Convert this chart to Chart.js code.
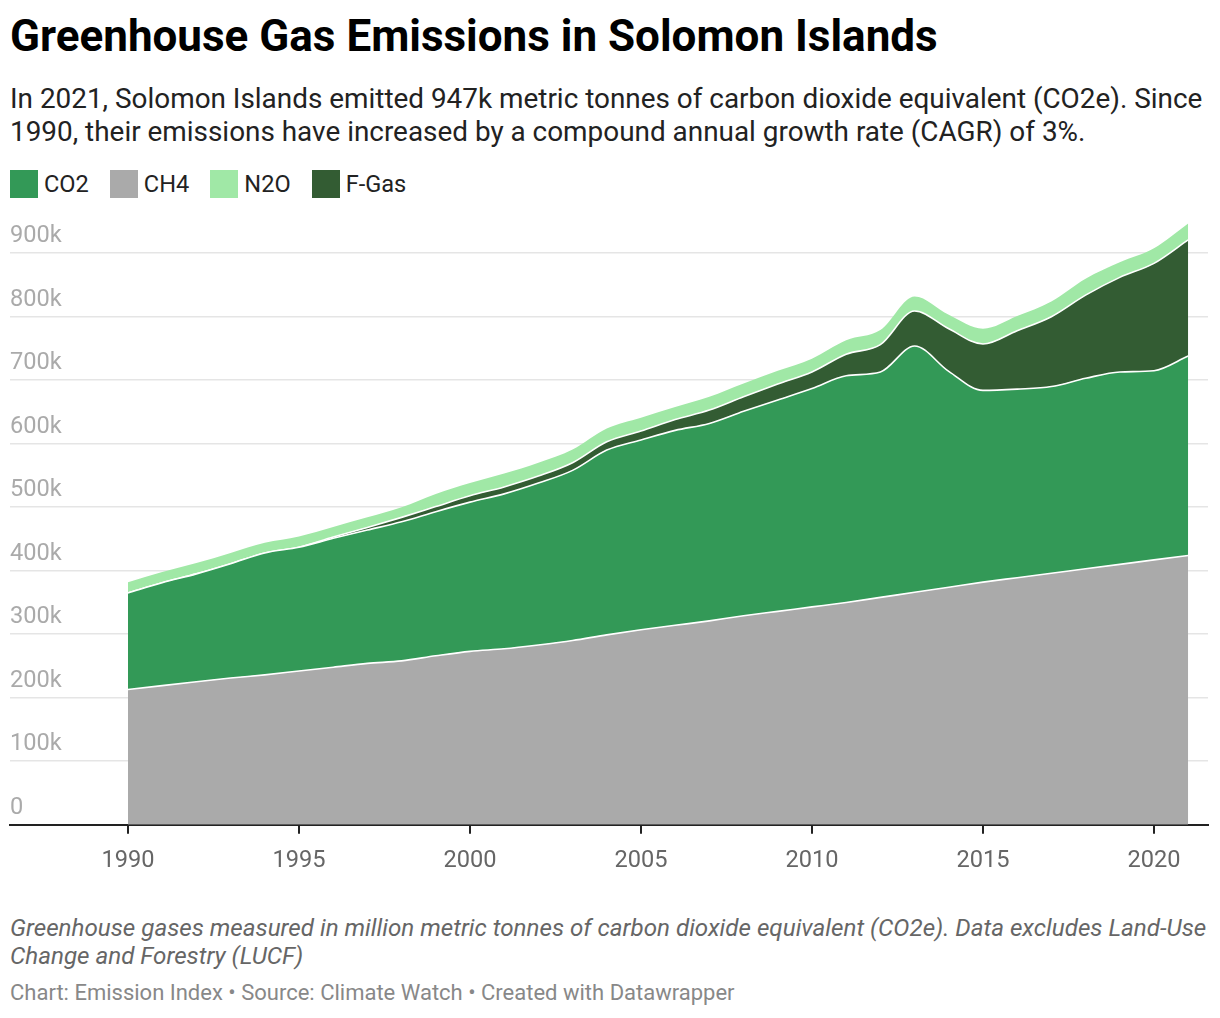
<!DOCTYPE html>
<html>
<head>
<meta charset="utf-8">
<script src="https://cdn.jsdelivr.net/npm/chart.js@4"></script>
<style>
  body { margin: 0; background: #fff; font-family: Roboto, "Noto Sans", sans-serif; }
  #wrap { position: relative; width: 1220px; height: 1018px; }
  h1 { position: absolute; left: 10px; top: 11px; margin: 0; font-size: 44px; line-height: 50px; font-weight: 700; color: #000; white-space: nowrap; }
  #sub { position: absolute; left: 10px; top: 82px; width: 1210px; margin: 0; font-size: 27.9px; line-height: 33px; color: #222; }
  #legend { position: absolute; left: 10px; top: 170px; display: flex; font-size: 23.6px; line-height: 28px; color: #222; }
  .item { display: flex; align-items: center; margin-right: 21px; }
  .sw { width: 28px; height: 28px; margin-right: 6px; }
  #box { position: absolute; left: 0; top: 194px; width: 1220px; height: 706px; }
  #note { position: absolute; left: 10px; top: 914px; width: 1208px; font-size: 24.2px; line-height: 28px; font-style: italic; color: #666; }
  #src { position: absolute; left: 10px; top: 981px; font-size: 22px; line-height: 24px; color: #888; white-space: nowrap; }
</style>
</head>
<body>
<div id="wrap">
  <h1>Greenhouse Gas Emissions in Solomon Islands</h1>
  <p id="sub">In 2021, Solomon Islands emitted 947k metric tonnes of carbon dioxide equivalent (CO2e). Since 1990, their emissions have increased by a compound annual growth rate (CAGR) of 3%.</p>
  <div id="legend"></div>
  <div id="box"><canvas id="canvas"></canvas></div>
  <div id="note">Greenhouse gases measured in million metric tonnes of carbon dioxide equivalent (CO2e). Data excludes Land-Use Change and Forestry (LUCF)</div>
  <div id="src">Chart: Emission Index • Source: Climate Watch • Created with Datawrapper</div>
</div>
<script>
// values in thousand tonnes CO2e
var years = [1990,1991,1992,1993,1994,1995,1996,1997,1998,1999,2000,2001,2002,2003,2004,2005,
             2006,2007,2008,2009,2010,2011,2012,2013,2014,2015,2016,2017,2018,2019,2020,2021];
var ch4  = [213,219,225,231,236,242,248,254,258,266,273,277,283,290,299,307,
            314,321,329,336,343,350,358,366,374,382,389,396,403,410,417,424];
var co2  = [152,162,170,180,192,195,203,210,219,227,235,244,255,268,291,299,
            307,311,322,333,344,357,355,388,340,302,297,294,300,303,298,314];
var fgas = [0,0,0,0,0,0,2,4,7,8,10,11,11,12,13,14,
            17,21,23,25,26,34,43,55,67,73,92,110,131,149,169,183];
var n2o  = [17,17,17,17,16,17,16,16,16,20,20,21,21,21,21,21,
            20,21,21,21,21,22,23,23,22,24,23,24,26,24,24,26];
var yTicks = [0,100,200,300,400,500,600,700,800,900];
var xTicks = [1990,1995,2000,2005,2010,2015,2020];

var colors = { CO2: '#339957', CH4: '#aaaaaa', N2O: '#a0e8a6', 'F-Gas': '#335c33' };
var legendOrder = ['CO2', 'CH4', 'N2O', 'F-Gas'];

// legend
var legend = document.getElementById('legend');
legendOrder.forEach(function (name) {
    var item = document.createElement('div');
    item.className = 'item';
    item.innerHTML = '<div class="sw" style="background:' + colors[name] + '"></div>' + name;
    legend.appendChild(item);
});

function points(arr) {
    return arr.map(function (v, i) { return { x: years[i], y: v }; });
}

// stacking order bottom -> top
var stack = [['CH4', ch4], ['CO2', co2], ['F-Gas', fgas], ['N2O', n2o]];
var datasets = stack.map(function (s, i) {
    return {
        label: s[0],
        data: points(s[1]),
        backgroundColor: colors[s[0]],
        borderColor: i == stack.length - 1 ? 'rgba(0,0,0,0)' : '#fff',
        borderWidth: 1.6,
        pointRadius: 0,
        cubicInterpolationMode: 'monotone',
        fill: i == 0 ? 'origin' : '-1'
    };
});

var config = {
    type: 'line',
    data: { datasets: datasets },
    options: {
        responsive: true,
        maintainAspectRatio: false,
        animation: false,
        layout: { padding: { left: 10, right: 12, top: 0, bottom: 12 } },
        plugins: { legend: { display: false }, tooltip: { enabled: false } },
        scales: {
            x: {
                type: 'linear',
                z: 2,
                min: 1986.55,
                max: 2021.58,
                afterBuildTicks: function (axis) {
                    axis.ticks = xTicks.map(function (v) { return { value: v }; });
                },
                grid: { drawOnChartArea: false, drawTicks: true, tickLength: 9, color: '#222', lineWidth: 2 },
                border: { display: true, color: '#222', width: 2 },
                ticks: {
                    padding: 13,
                    color: '#666',
                    font: { family: 'Roboto', size: 23.6 },
                    callback: function (v) { return String(v); },
                    maxRotation: 0
                }
            },
            y: {
                stacked: true,
                z: 1,
                min: 0,
                max: 971,
                afterBuildTicks: function (axis) {
                    axis.ticks = yTicks.map(function (v) { return { value: v }; });
                },
                grid: { drawTicks: false, color: 'rgba(0,0,0,0.1)', lineWidth: 1.5 },
                border: { display: false },
                ticks: {
                    mirror: true,
                    padding: 0,
                    labelOffset: -17,
                    color: '#aaa',
                    font: { family: 'Roboto', size: 23.6 },
                    callback: function (v) { return v == 0 ? '0' : v + 'k'; }
                }
            }
        }
    }
};

window.onload = function () {
    var ctx = document.getElementById('canvas').getContext('2d');
    window.myChart = new Chart(ctx, config);
};
</script>
</body>
</html>
